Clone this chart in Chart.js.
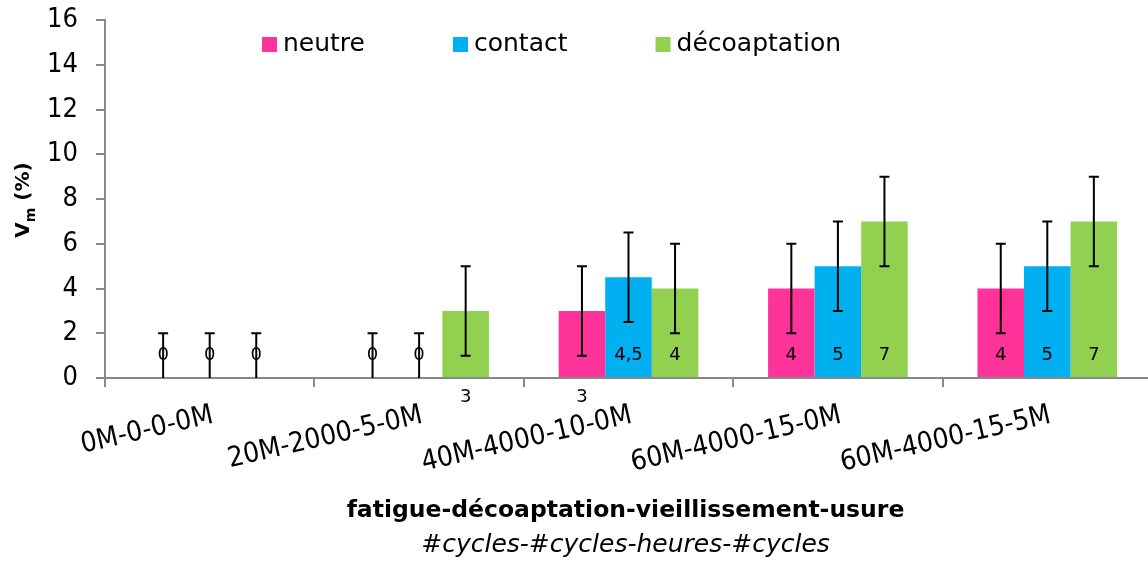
<!DOCTYPE html>
<html>
<head>
<meta charset="utf-8">
<script src="https://cdn.jsdelivr.net/npm/chart.js@4"></script>
<style>
  html, body { margin: 0; padding: 0; background: #fff; overflow: hidden; }
  #wrap { width: 1148px; height: 563px; overflow: hidden; }
</style>
</head>
<body>
<div id="wrap"><canvas id="chart" width="1152" height="563"></canvas></div>
<script>
const categories = ['0M-0-0-0M', '20M-2000-5-0M', '40M-4000-10-0M', '60M-4000-15-0M', '60M-4000-15-5M'];
const seriesNames = ['neutre', 'contact', 'décoaptation'];
const neutre = [0, 0, 3, 4, 4];
const contact = [0, 0, 4.5, 5, 5];
const decoaptation = [0, 3, 4, 7, 7];
const neutreErr = [2, 2, 2, 2, 2];
const contactErr = [2, 2, 2, 2, 2];
const decoaptationErr = [2, 2, 2, 2, 2];
const yTicks = [0, 2, 4, 6, 8, 10, 12, 14, 16];
const colors = ['#FF3399', '#00B0F0', '#92D050'];
const xTitle = 'fatigue-décoaptation-vieillissement-usure';
const xSubtitle = '#cycles-#cycles-heures-#cycles';

const FONT = '"DejaVu Sans", sans-serif';
const NARROW = '"DejaVu Sans Condensed", "DejaVu Sans", sans-serif';

// labels that sit below the axis in the original: [dataset, index]
const labelsBelowAxis = [[2, 1], [0, 2]];

const extras = {
  id: 'extras',
  afterDatasetsDraw(chart) {
    const ctx = chart.ctx, y = chart.scales.y, area = chart.chartArea;
    const errs = [neutreErr, contactErr, decoaptationErr];

    // data labels (inside base)
    ctx.save();
    ctx.font = '18px ' + FONT;
    ctx.fillStyle = '#000';
    ctx.textAlign = 'center';
    ctx.textBaseline = 'middle';
    chart.data.datasets.forEach((ds, di) => {
      chart.getDatasetMeta(di).data.forEach((bar, i) => {
        const below = labelsBelowAxis.some(m => m[0] === di && m[1] === i);
        const txt = String(ds.data[i]).replace('.', ',');
        ctx.fillText(txt, bar.x, y.getPixelForValue(0) + (below ? 19 : -23));
      });
    });
    ctx.restore();

    // error bars
    ctx.save();
    ctx.beginPath();
    ctx.rect(area.left, area.top - 5, area.right - area.left, area.bottom - area.top + 5);
    ctx.clip();
    ctx.strokeStyle = '#000';
    ctx.lineWidth = 2;
    chart.data.datasets.forEach((ds, di) => {
      chart.getDatasetMeta(di).data.forEach((bar, i) => {
        const v = ds.data[i], e = errs[di][i];
        const top = y.getPixelForValue(v + e), bot = y.getPixelForValue(v - e);
        ctx.beginPath();
        ctx.moveTo(bar.x, top); ctx.lineTo(bar.x, bot);
        ctx.moveTo(bar.x - 5, top); ctx.lineTo(bar.x + 5, top);
        ctx.moveTo(bar.x - 5, bot); ctx.lineTo(bar.x + 5, bot);
        ctx.stroke();
      });
    });
    ctx.restore();
  },
  afterDraw(chart) {
    const ctx = chart.ctx, area = chart.chartArea;
    ctx.save();
    ctx.fillStyle = '#000';

    // legend
    ctx.font = '25px ' + FONT;
    ctx.textBaseline = 'middle';
    let lx = 262;
    chart.data.datasets.forEach((ds, di) => {
      ctx.fillStyle = colors[di];
      ctx.fillRect(lx, 37, 15, 15);
      ctx.fillStyle = '#000';
      ctx.fillText(ds.label, lx + 21, 44);
      lx += 21 + ctx.measureText(ds.label).width + 88;
    });

    // x axis title (two lines)
    const cx = (area.left + area.right) / 2 - 3;
    ctx.textAlign = 'center';
    ctx.font = 'bold 23.5px ' + FONT;
    ctx.fillText(xTitle, cx, 511);
    ctx.font = 'italic 25px ' + FONT;
    ctx.fillText(xSubtitle, cx, 545);

    // y axis title V_m (%)
    ctx.translate(22, 200);
    ctx.rotate(-Math.PI / 2);
    ctx.textAlign = 'left';
    ctx.textBaseline = 'alphabetic';
    ctx.font = 'bold 20px ' + FONT;
    const wV = ctx.measureText('V').width;
    ctx.font = 'bold 14px ' + FONT;
    const wm = ctx.measureText('m').width;
    ctx.font = 'bold 20px ' + FONT;
    const wp = ctx.measureText(' (%)').width;
    let tx = -(wV + wm + wp) / 2;
    ctx.fillText('V', tx, 7);
    ctx.font = 'bold 14px ' + FONT;
    ctx.fillText('m', tx + wV, 13);
    ctx.font = 'bold 20px ' + FONT;
    ctx.fillText(' (%)', tx + wV + wm, 7);
    ctx.restore();
  }
};

new Chart(document.getElementById('chart'), {
  type: 'bar',
  data: {
    labels: categories,
    datasets: [
      { label: seriesNames[0], data: neutre, backgroundColor: colors[0] },
      { label: seriesNames[1], data: contact, backgroundColor: colors[1] },
      { label: seriesNames[2], data: decoaptation, backgroundColor: colors[2] }
    ]
  },
  options: {
    responsive: false,
    animation: false,
    devicePixelRatio: 1,
    layout: { autoPadding: false, padding: { top: 20, right: 0, bottom: 0, left: 0 } },
    datasets: { bar: { categoryPercentage: 0.667, barPercentage: 1 } },
    plugins: { legend: { display: false }, tooltip: { enabled: false } },
    scales: {
      x: {
        afterFit(scale) { scale.height = 185; },
        border: { color: '#888', width: 2 },
        grid: { drawOnChartArea: false, color: '#888', lineWidth: 2, tickLength: 9 },
        ticks: { color: '#000', font: { family: NARROW, size: 28 }, minRotation: 13, maxRotation: 13, padding: 12, labelOffset: 3 }
      },
      y: {
        min: 0, max: 16,
        afterFit(scale) { scale.width = 105; scale.paddingTop = 0; scale.paddingBottom = 0; },
        afterBuildTicks(scale) { scale.ticks = yTicks.map(v => ({ value: v })); },
        border: { color: '#888', width: 2 },
        grid: { drawOnChartArea: false, color: '#888', lineWidth: 2, tickLength: 9 },
        ticks: { color: '#000', font: { family: NARROW, size: 27, lineHeight: 0.6 }, padding: 18 }
      }
    }
  },
  plugins: [extras]
});
</script>
</body>
</html>
